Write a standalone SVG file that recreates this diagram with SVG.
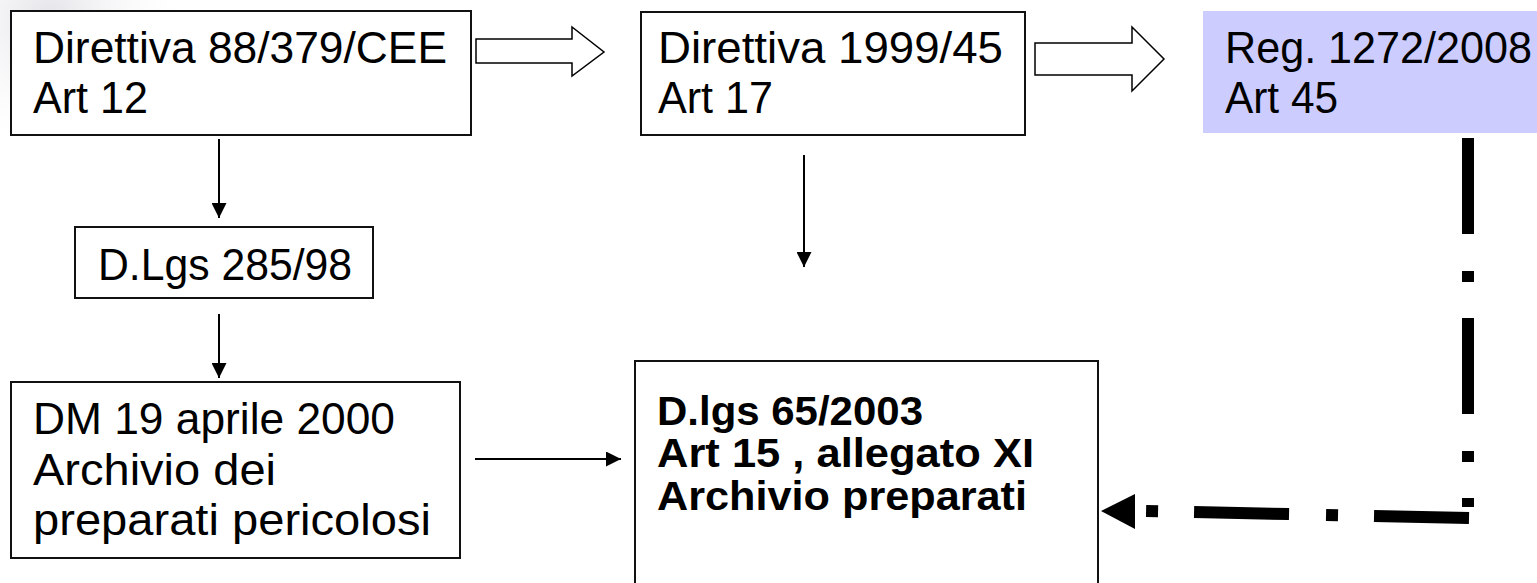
<svg xmlns="http://www.w3.org/2000/svg" width="1537" height="583" viewBox="0 0 1537 583">
<style>
.box{fill:#fff;stroke:#111;stroke-width:2}
.t{font-family:"Liberation Sans",Arial,sans-serif;font-size:44px;fill:#000}
.b{font-family:"Liberation Sans",Arial,sans-serif;font-size:41px;font-weight:bold;fill:#000}
.thin{fill:none;stroke:#000;stroke-width:2}
.hollow{fill:#fff;stroke:#000;stroke-width:1.5}
.dd{fill:none;stroke:#000;stroke-width:12;stroke-linecap:butt}
</style>
<defs>
<marker id="ah" viewBox="0 0 15 15" refX="15" refY="7.5" markerWidth="15" markerHeight="15" orient="auto" markerUnits="userSpaceOnUse">
<path d="M0,0 L15,7.5 L0,15 z" fill="#000"/>
</marker>
<radialGradient id="bg" cx="50" cy="20" r="140" gradientUnits="userSpaceOnUse">
<stop offset="0" stop-color="#dcdce2" stop-opacity="0.8"/>
<stop offset="1" stop-color="#ffffff" stop-opacity="0"/>
</radialGradient>
</defs>
<rect width="1537" height="583" fill="#fff"/>
<rect width="200" height="160" fill="url(#bg)"/>

<g id="connectors">
<path class="thin" d="M219,139 L219,218" marker-end="url(#ah)"/>
<path class="thin" d="M219,314 L219,378" marker-end="url(#ah)"/>
<path class="thin" d="M804,155 L804,267" marker-end="url(#ah)"/>
<path class="thin" d="M475,459 L621,459" marker-end="url(#ah)"/>
<polygon class="hollow" points="476,39 572,39 572,27 604,52 572,76 572,63 476,63"/>
<polygon class="hollow" points="1035,43 1132,43 1132,27 1164,59 1132,91 1132,75 1035,75"/>
<path class="dd" d="M1468,138 L1468,507" stroke-dasharray="96 37 11 36"/>
<path class="dd" d="M1469,518 L1146,511" stroke-dasharray="95 36 12 37"/>
<polygon points="1101,511 1135,494 1135,529" fill="#000"/>
</g>

<g id="n1">
<rect class="box" x="11" y="11" width="460" height="124"/>
<text class="t" x="33" y="63" textLength="414" lengthAdjust="spacingAndGlyphs">Direttiva 88/379/CEE</text>
<text class="t" x="33" y="113" textLength="115" lengthAdjust="spacingAndGlyphs">Art 12</text>
</g>
<g id="n2">
<rect class="box" x="641" y="12" width="384" height="123"/>
<text class="t" x="658" y="63" textLength="345" lengthAdjust="spacingAndGlyphs">Direttiva 1999/45</text>
<text class="t" x="658" y="113" textLength="115" lengthAdjust="spacingAndGlyphs">Art 17</text>
</g>
<g id="n3">
<rect x="1203" y="11" width="340" height="122" fill="#ccccff"/>
<text class="t" x="1225" y="63" textLength="307" lengthAdjust="spacingAndGlyphs">Reg. 1272/2008</text>
<text class="t" x="1225" y="113" textLength="113" lengthAdjust="spacingAndGlyphs">Art 45</text>
</g>
<g id="n4">
<rect class="box" x="75" y="227" width="298" height="71"/>
<text class="t" x="98" y="280" textLength="254" lengthAdjust="spacingAndGlyphs">D.Lgs 285/98</text>
</g>
<g id="n5">
<rect class="box" x="11" y="382" width="449" height="176"/>
<text class="t" x="33" y="434" textLength="362" lengthAdjust="spacingAndGlyphs">DM 19 aprile 2000</text>
<text class="t" x="33" y="485" textLength="243" lengthAdjust="spacingAndGlyphs">Archivio dei</text>
<text class="t" x="33" y="535" textLength="398" lengthAdjust="spacingAndGlyphs">preparati pericolosi</text>
</g>
<g id="n6">
<rect class="box" x="635" y="361" width="463" height="240"/>
<text class="b" x="657" y="425" textLength="266" lengthAdjust="spacingAndGlyphs">D.lgs 65/2003</text>
<text class="b" x="657" y="467" textLength="377" lengthAdjust="spacingAndGlyphs">Art 15 , allegato XI</text>
<text class="b" x="657" y="510" textLength="370" lengthAdjust="spacingAndGlyphs">Archivio preparati</text>
</g>
</svg>
